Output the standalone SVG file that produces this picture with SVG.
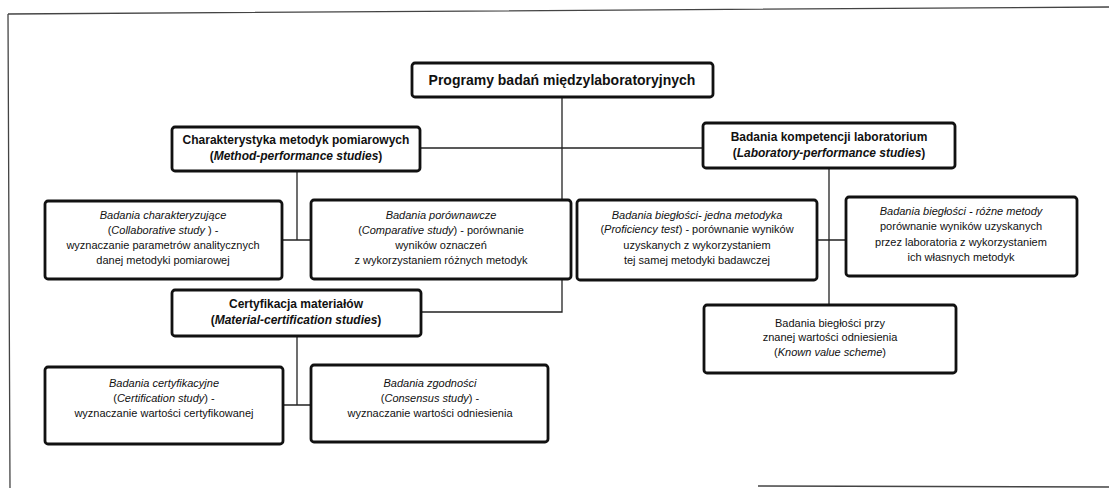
<svg xmlns="http://www.w3.org/2000/svg" width="1109" height="488" viewBox="0 0 1109 488">
<style>
  .box{fill:#fff;stroke:#111;stroke-width:2.8}
  .ln{fill:none;stroke:#222;stroke-width:1.3}
  .frame{fill:none;stroke:#444;stroke-width:1.3}
  text{font-family:"Liberation Sans",Arial,sans-serif;fill:#111;text-anchor:middle}
  .t{font-size:11px}
  .h{font-size:12px;font-weight:bold}
  .m{font-size:14px;font-weight:bold}
  .i{font-style:italic}
</style>
<rect width="1109" height="488" fill="#fff"/>
<path class="frame" d="M8,14 L1109,7 M8,14 L10,488 M758,486 L1109,487"/>
<g id="connectors">
  <path class="ln" d="M562,97 V312 H421"/>
  <path class="ln" d="M420,148 H703"/>
  <path class="ln" d="M297,171 V240 M282,240 H311"/>
  <path class="ln" d="M297,336 V405 M283,405 H311"/>
  <path class="ln" d="M829,168 V305 M817,240 H846"/>
</g>
<g id="main">
  <rect class="box" x="412" y="63" width="301" height="34" rx="3"/>
  <text class="m" x="562" y="85">Programy badań międzylaboratoryjnych</text>
</g>
<g id="method">
  <rect class="box" x="172" y="127" width="248" height="44" rx="3"/>
  <text class="h" x="296" y="144">Charakterystyka metodyk pomiarowych</text>
  <text class="h" x="296" y="160">(<tspan class="i">Method-performance studies</tspan>)</text>
</g>
<g id="lab">
  <rect class="box" x="703" y="123" width="252" height="45" rx="3"/>
  <text class="h" x="829" y="141">Badania kompetencji laboratorium</text>
  <text class="h" x="829" y="157">(<tspan class="i">Laboratory-performance studies</tspan>)</text>
</g>
<g id="collab">
  <rect class="box" x="45" y="201" width="237" height="78" rx="3"/>
  <text class="t i" x="163" y="219">Badania charakteryzujące</text>
  <text class="t" x="163" y="234">(<tspan class="i">Collaborative study </tspan>) -</text>
  <text class="t" x="163" y="249">wyznaczanie parametrów analitycznych</text>
  <text class="t" x="163" y="264">danej metodyki pomiarowej</text>
</g>
<g id="compar">
  <rect class="box" x="311" y="200" width="260" height="79" rx="3"/>
  <text class="t i" x="441" y="219">Badania porównawcze</text>
  <text class="t" x="441" y="234">(<tspan class="i">Comparative study</tspan>) - porównanie</text>
  <text class="t" x="441" y="249">wyników oznaczeń</text>
  <text class="t" x="441" y="264">z wykorzystaniem różnych metodyk</text>
</g>
<g id="cert">
  <rect class="box" x="172" y="290" width="249" height="46" rx="3"/>
  <text class="h" x="296" y="308">Certyfikacja materiałów</text>
  <text class="h" x="296" y="324">(<tspan class="i">Material-certification studies</tspan>)</text>
</g>
<g id="certstudy">
  <rect class="box" x="45" y="367" width="238" height="77" rx="3"/>
  <text class="t i" x="164" y="387">Badania certyfikacyjne</text>
  <text class="t" x="164" y="402">(<tspan class="i">Certification study</tspan>) -</text>
  <text class="t" x="164" y="417">wyznaczanie wartości certyfikowanej</text>
</g>
<g id="consensus">
  <rect class="box" x="311" y="365" width="237" height="77" rx="3"/>
  <text class="t i" x="430" y="387">Badania zgodności</text>
  <text class="t" x="430" y="402">(<tspan class="i">Consensus study</tspan>) -</text>
  <text class="t" x="430" y="417">wyznaczanie wartości odniesienia</text>
</g>
<g id="proficiency">
  <rect class="box" x="577" y="200" width="240" height="80" rx="3"/>
  <text class="t i" x="697" y="219">Badania biegłości- jedna metodyka</text>
  <text class="t" x="697" y="233">(<tspan class="i">Proficiency test</tspan>) - porównanie wyników</text>
  <text class="t" x="697" y="249">uzyskanych z wykorzystaniem</text>
  <text class="t" x="697" y="264">tej samej metodyki badawczej</text>
</g>
<g id="different">
  <rect class="box" x="846" y="197" width="231" height="79" rx="3"/>
  <text class="t i" x="961" y="215">Badania biegłości - różne metody</text>
  <text class="t" x="961" y="230">porównanie wyników uzyskanych</text>
  <text class="t" x="961" y="246">przez laboratoria z wykorzystaniem</text>
  <text class="t" x="961" y="261">ich własnych metodyk</text>
</g>
<g id="known">
  <rect class="box" x="704" y="305" width="252" height="68" rx="3"/>
  <text class="t" x="830" y="327">Badania biegłości przy</text>
  <text class="t" x="830" y="341">znanej wartości odniesienia</text>
  <text class="t" x="830" y="356">(<tspan class="i">Known value scheme</tspan>)</text>
</g>
</svg>
